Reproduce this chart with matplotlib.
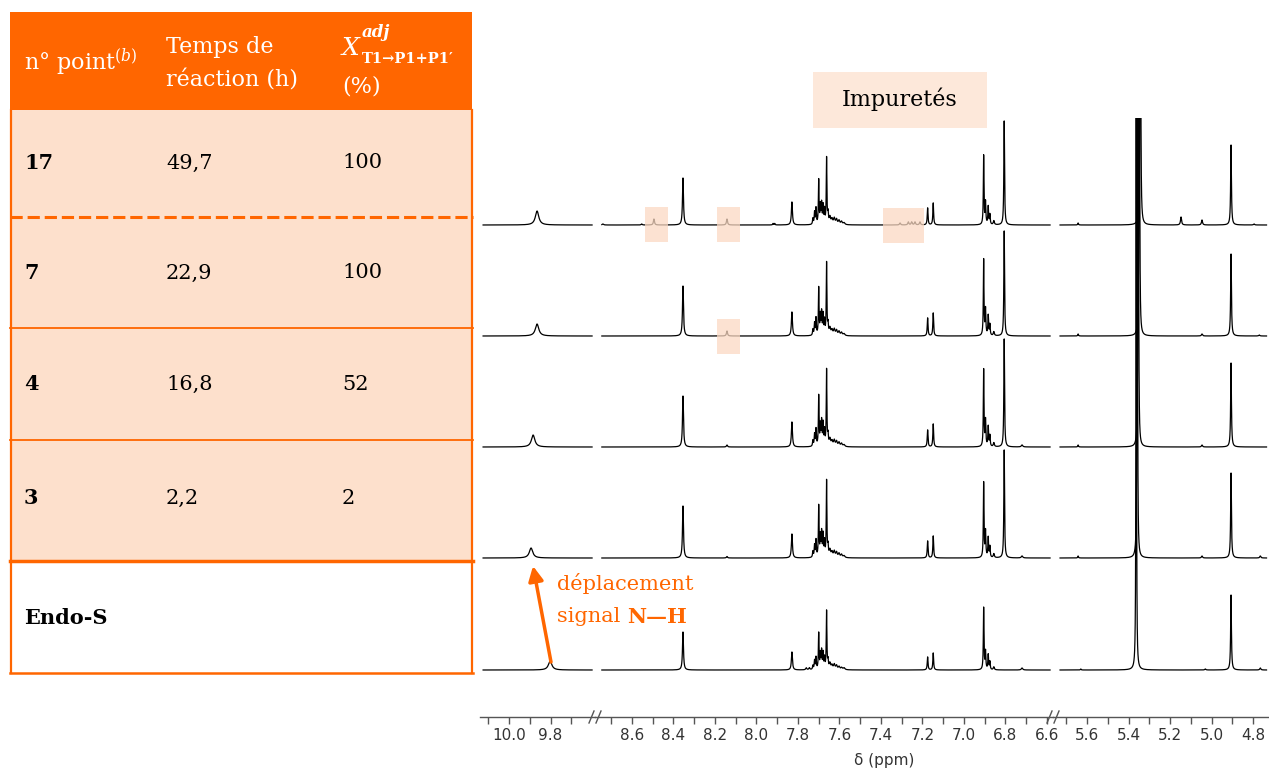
import matplotlib.pyplot as plt
from matplotlib.patches import Rectangle
from matplotlib.ticker import FixedLocator, FormatStrFormatter
import numpy as np

plt.rcParams['mathtext.fontset'] = 'dejavuserif'

ORANGE = '#ff6600'
PEACH = '#fde0cc'
LIGHT = '#fde8da'
SERIF = 'DejaVu Serif'

# table
points = ['17', '7', '4', '3', 'Endo-S']
temps = ['49,7', '22,9', '16,8', '2,2', '']
conversion = ['100', '100', '52', '2', '']

# 1H NMR peak lists (ppm, height, half width in ppm), top spectrum first
nmr_17 = [
    (9.865, 14, 0.010),
    (8.740, 1, 0.004), (8.553, 1, 0.003), (8.494, 6, 0.003), (8.354, 47, 0.0028), (8.142, 6, 0.003),
    (7.920, 1.5, 0.002), (7.912, 1.5, 0.002), (7.829, 23, 0.003),
    (7.728, 6, 0.002), (7.720, 12, 0.002), (7.713, 16, 0.002), (7.700, 44, 0.0018), (7.692, 18, 0.002),
    (7.686, 20, 0.002), (7.679, 18, 0.002), (7.672, 14, 0.002), (7.662, 66, 0.0018), (7.655, 10, 0.002),
    (7.646, 7, 0.004), (7.636, 5, 0.004), (7.625, 6, 0.004), (7.614, 5, 0.004), (7.602, 4, 0.004),
    (7.590, 3, 0.004), (7.578, 2, 0.005),
    (7.308, 2, 0.003), (7.268, 3, 0.003), (7.252, 3, 0.003), (7.236, 3, 0.003), (7.212, 3, 0.003),
    (7.175, 17, 0.0022), (7.148, 22, 0.0022),
    (6.905, 69, 0.0018), (6.896, 22, 0.002), (6.883, 18, 0.002), (6.875, 10, 0.002), (6.856, 4, 0.003),
    (6.806, 104, 0.002),
    (5.643, 2, 0.002), (5.343, 800, 0.0012), (5.147, 8, 0.003), (5.046, 5, 0.003), (4.906, 80, 0.0022),
    (4.795, 1, 0.003),
]
nmr_7 = [
    (9.865, 12, 0.010),
    (8.354, 50, 0.0028), (8.142, 5, 0.003), (7.829, 24, 0.003),
    (7.728, 6, 0.002), (7.720, 12, 0.002), (7.713, 17, 0.002), (7.700, 47, 0.0018), (7.692, 19, 0.002),
    (7.686, 22, 0.002), (7.679, 20, 0.002), (7.672, 14, 0.002), (7.662, 72, 0.0018), (7.655, 10, 0.002),
    (7.646, 7, 0.004), (7.636, 5, 0.004), (7.625, 6, 0.004), (7.614, 5, 0.004), (7.602, 4, 0.004),
    (7.590, 3, 0.004), (7.578, 2, 0.005),
    (7.175, 18, 0.0022), (7.148, 23, 0.0022),
    (6.905, 76, 0.0018), (6.896, 26, 0.002), (6.883, 20, 0.002), (6.875, 11, 0.002), (6.856, 4, 0.003),
    (6.806, 105, 0.002),
    (5.643, 2, 0.002), (5.348, 800, 0.0012), (5.046, 2, 0.003), (4.906, 82, 0.0022), (4.770, 1, 0.003),
]
nmr_4 = [
    (9.884, 12, 0.010),
    (8.354, 51, 0.0028), (8.142, 2, 0.003), (7.829, 25, 0.003),
    (7.728, 6, 0.002), (7.720, 12, 0.002), (7.713, 17, 0.002), (7.700, 50, 0.0018), (7.692, 20, 0.002),
    (7.686, 24, 0.002), (7.679, 22, 0.002), (7.672, 15, 0.002), (7.662, 76, 0.0018), (7.655, 10, 0.002),
    (7.646, 7, 0.004), (7.636, 5, 0.004), (7.625, 6, 0.004), (7.614, 5, 0.004), (7.602, 4, 0.004),
    (7.590, 3, 0.004), (7.578, 2, 0.005),
    (7.175, 17, 0.0022), (7.148, 23, 0.0022),
    (6.905, 77, 0.0018), (6.896, 26, 0.002), (6.883, 20, 0.002), (6.875, 11, 0.002), (6.856, 4, 0.003),
    (6.806, 108, 0.002), (6.720, 2, 0.004),
    (5.643, 2, 0.002), (5.353, 800, 0.0012), (5.046, 2, 0.003), (4.906, 84, 0.0022),
]
nmr_3 = [
    (9.894, 10, 0.010),
    (8.354, 52, 0.0028), (8.142, 1.5, 0.003), (7.829, 24, 0.003),
    (7.728, 6, 0.002), (7.720, 12, 0.002), (7.713, 17, 0.002), (7.700, 51, 0.0018), (7.692, 20, 0.002),
    (7.686, 24, 0.002), (7.679, 22, 0.002), (7.672, 15, 0.002), (7.662, 76, 0.0018), (7.655, 10, 0.002),
    (7.646, 7, 0.004), (7.636, 5, 0.004), (7.625, 6, 0.004), (7.614, 5, 0.004), (7.602, 4, 0.004),
    (7.590, 3, 0.004), (7.578, 2, 0.005),
    (7.175, 17, 0.0022), (7.148, 22, 0.0022),
    (6.905, 75, 0.0018), (6.896, 26, 0.002), (6.883, 20, 0.002), (6.875, 11, 0.002), (6.856, 4, 0.003),
    (6.806, 108, 0.002), (6.720, 2, 0.004),
    (5.643, 2, 0.002), (5.358, 800, 0.0012), (5.046, 2, 0.003), (4.906, 85, 0.0022), (4.765, 2, 0.003),
]
nmr_endo = [
    (9.802, 9, 0.010),
    (8.354, 38, 0.0028), (7.829, 18, 0.003), (7.760, 2, 0.003), (7.745, 2, 0.003),
    (7.728, 4, 0.002), (7.720, 9, 0.002), (7.713, 12, 0.002), (7.700, 36, 0.0018), (7.692, 15, 0.002),
    (7.686, 18, 0.002), (7.679, 16, 0.002), (7.672, 11, 0.002), (7.662, 58, 0.0018), (7.655, 8, 0.002),
    (7.646, 6, 0.004), (7.636, 4, 0.004), (7.625, 5, 0.004), (7.614, 4, 0.004), (7.602, 3, 0.004),
    (7.590, 2, 0.004), (7.578, 2, 0.005),
    (7.175, 13, 0.0022), (7.148, 17, 0.0022),
    (6.905, 62, 0.0018), (6.896, 18, 0.002), (6.883, 15, 0.002), (6.875, 8, 0.002), (6.856, 3, 0.003),
    (6.720, 2, 0.004),
    (5.630, 1, 0.002), (5.363, 800, 0.0012), (5.030, 1, 0.003), (4.906, 75, 0.0022), (4.765, 2, 0.003),
]
spectra = [nmr_17, nmr_7, nmr_4, nmr_3, nmr_endo]

# recorded ppm windows of the three panels and their tick values
windows = [(10.125, 9.600), (8.745, 6.585), (5.730, 4.735)]
major_ticks = [[10.0, 9.8], [8.6, 8.4, 8.2, 8.0, 7.8, 7.6, 7.4, 7.2, 7.0, 6.8, 6.6],
               [5.6, 5.4, 5.2, 5.0, 4.8]]
minor_ticks = [[10.1, 9.9, 9.7], [8.7, 8.5, 8.3, 8.1, 7.9, 7.7, 7.5, 7.3, 7.1, 6.9, 6.7],
               [5.7, 5.5, 5.3, 5.1, 4.9]]


def lorentz_sum(ppm, peaks):
    y = np.zeros_like(ppm)
    for pos, h, w in peaks:
        y += h / (1 + ((ppm - pos) / w) ** 2)
    return y


W, H = 1269, 771
fig = plt.figure(figsize=(12.69, 7.71), dpi=100)


def px_axes(x0, x1, y0, y1, **kw):
    return fig.add_axes([x0 / W, 1 - y1 / H, (x1 - x0) / W, (y1 - y0) / H], **kw)


# spectra panels (x in ppm, y in pixel rows from the top)
panel_px = [(480, 595), (595, 1053), (1053, 1269)]
px_per_ppm = 207.5
left_ppm = [10.140, 8.778, 5.764]
baselines = [225, 336, 447, 558, 670]

for (x0, x1), lp, (a, b), maj, mnr in zip(panel_px, left_ppm, windows, major_ticks, minor_ticks):
    ax = px_axes(x0, x1, 118, 717)
    ax.set_xlim(lp, lp - (x1 - x0) / px_per_ppm)
    ax.set_ylim(717, 118)
    ppm = np.linspace(a, b, 40000)
    for base, peaks in zip(baselines, spectra):
        ax.plot(ppm, base - lorentz_sum(ppm, peaks), color='black', lw=0.9)
    for s in ['top', 'left', 'right']:
        ax.spines[s].set_visible(False)
    ax.spines['bottom'].set_color('#555555')
    ax.spines['bottom'].set_linewidth(1.0)
    ax.set_yticks([])
    ax.xaxis.set_major_locator(FixedLocator(maj))
    ax.xaxis.set_minor_locator(FixedLocator(mnr))
    ax.xaxis.set_major_formatter(FormatStrFormatter('%.1f'))
    ax.tick_params(axis='x', which='both', direction='out', length=5, width=1,
                   color='#555555', labelsize=11, labelcolor='#333333', pad=3)
    ax.patch.set_alpha(0)

# overlay in pixel coordinates
ov = px_axes(0, W, 0, H)
ov.set_xlim(0, W)
ov.set_ylim(H, 0)
ov.axis('off')
ov.set_zorder(5)

# table
rows = [110, 217, 328, 440, 561, 673]
ov.add_patch(Rectangle((10, 12), 462, 98, facecolor=ORANGE, edgecolor='none'))
for i in range(5):
    fc = PEACH if i < 4 else 'white'
    ov.add_patch(Rectangle((10, rows[i]), 462, rows[i + 1] - rows[i], facecolor=fc, edgecolor='none'))
ov.plot([11, 11], [110, 673], color=ORANGE, lw=1.6)
ov.plot([472, 472], [110, 673], color=ORANGE, lw=1.6)
ov.plot([10, 473], [673, 673], color=ORANGE, lw=1.8)
ov.plot([10, 473], [217, 217], color=ORANGE, lw=2.2, dashes=(4, 1.6))
ov.plot([10, 473], [328, 328], color=ORANGE, lw=1.3)
ov.plot([10, 473], [440, 440], color=ORANGE, lw=1.3)
ov.plot([10, 473], [561, 561], color=ORANGE, lw=2.5)

hdr = dict(color='white', family=SERIF, fontsize=16, va='baseline')
ov.text(24, 70, r'n° point$^{\mathit{(b)}}$', **hdr)
ov.text(166, 53, 'Temps de', **hdr)
ov.text(166, 86, 'réaction (h)', **hdr)
ov.text(342, 55, 'X', color='white', family=SERIF, fontsize=18, style='italic', va='baseline')
ov.text(362, 37, 'adj', color='white', family=SERIF, fontsize=12, style='italic',
        fontweight='bold', va='baseline')
ov.text(362, 63, 'T1→P1+P1′', color='white', family=SERIF, fontsize=10.5,
        fontweight='bold', va='baseline')
ov.text(342, 92, '(%)', **hdr)

row_y = [163, 273, 384, 498, 618]
for y, p, t, c in zip(row_y, points, temps, conversion):
    ov.text(24, y, p, family=SERIF, fontsize=15, fontweight='bold', va='center')
    ov.text(166, y, t, family=SERIF, fontsize=15, va='center')
    ov.text(342, y, c, family=SERIF, fontsize=15, va='center')

# impurity highlights
ov.add_patch(Rectangle((813, 72), 174, 56, facecolor=LIGHT, edgecolor='none'))
ov.text(900, 99, 'Impuretés', family=SERIF, fontsize=16, ha='center', va='center')
for (bx, by, bw, bh) in [(645, 207, 23, 35), (717, 207, 23, 35), (883, 208, 41, 35), (717, 319, 23, 35)]:
    ov.add_patch(Rectangle((bx, by), bw, bh, facecolor='#fbd9c3', edgecolor='none', alpha=0.75))

# N-H shift annotation
ov.annotate('', xy=(533, 566), xytext=(551, 662),
            arrowprops=dict(arrowstyle='-|>', color=ORANGE, lw=2.5, mutation_scale=22,
                            shrinkA=0, shrinkB=0))
ov.text(557, 584, 'déplacement', color=ORANGE, family=SERIF, fontsize=15, va='center')
t1 = ov.text(557, 617, 'signal ', color=ORANGE, family=SERIF, fontsize=15, va='center')
ov.annotate('N—H', xy=(1, 0.5), xycoords=t1, color=ORANGE, family=SERIF, fontsize=15,
            fontweight='bold', va='center', ha='left')

# axis breaks and label
for bx in [595, 1053]:
    ov.plot([bx - 6, bx - 1], [723, 711], color='#555555', lw=1)
    ov.plot([bx + 1, bx + 6], [723, 711], color='#555555', lw=1)
ov.text(884, 761, 'δ (ppm)', fontsize=11, color='#333333', ha='center', va='center')

plt.savefig('out.png', dpi=100)
